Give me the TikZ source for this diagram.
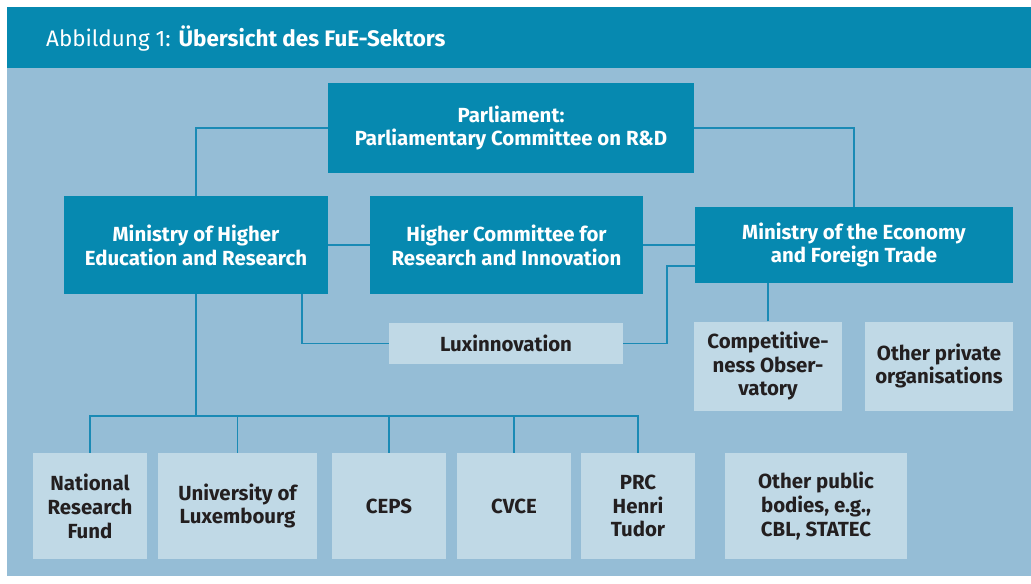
\documentclass[tikz,border=0pt]{standalone}
\usepackage{fontspec}
\setmainfont{Fira Sans}
\usepackage{tikz}
\usetikzlibrary{positioning,calc}

\definecolor{headblue}{HTML}{0689B0}
\definecolor{panelblue}{HTML}{95BDD6}
\definecolor{paleblue}{HTML}{C0D9E6}
\definecolor{linkblue}{HTML}{1A8AB5}
\definecolor{inkdark}{HTML}{231F20}

\begin{document}
\begin{tikzpicture}[
    x=1bp, y=-1bp,
    dark/.style={
        fill=headblue,
        text=white,
        align=center,
        inner sep=0pt,
        font=\fontsize{20.5}{24}\selectfont\bfseries
    },
    pale/.style={
        fill=paleblue,
        text=inkdark,
        align=center,
        inner sep=0pt,
        font=\fontsize{20.5}{24}\selectfont\bfseries
    },
    link/.style={line width=1.6bp, linkblue}
]

% ============================================================
% Panel and title bar
% ============================================================

\useasboundingbox (0,0) rectangle (1031,584);
\fill[panelblue] (7,7) rectangle (1031,576);
\fill[headblue] (7,7) rectangle (1031,68);

\node[
    anchor=west,
    text=white,
    inner sep=0pt,
    font=\fontsize{22.5}{24}\selectfont
] (title) at (46,39)
    {Abbildung 1: \textbf{Übersicht des FuE-Sektors}};

% ============================================================
% Upper level
% ============================================================

\node[dark, minimum width=366bp, minimum height=90bp] (parl) at (511,128)
    {Parliament:\\Parliamentary Committee on R\&D};

\node[dark, minimum width=264bp, minimum height=98bp] (mher) at (196,245)
    {Ministry of Higher\\Education and Research};

\node[dark, minimum width=273bp, minimum height=98bp] (hcri) at (506.5,245)
    {Higher Committee for\\Research and Innovation};

\node[dark, minimum width=318bp, minimum height=76bp] (mecon) at (854,245)
    {Ministry of the Economy\\and Foreign Trade};

% ============================================================
% Middle level
% ============================================================

\node[pale, minimum width=234bp, minimum height=41bp] (luxi) at (506,343.5)
    {Luxinnovation};

\node[pale, minimum width=148bp, minimum height=89bp] (compobs) at (768,366)
    {Competitive-\\ness Obser-\\vatory};

\node[pale, minimum width=148bp, minimum height=89bp] (privorg) at (939,366)
    {Other private\\organisations};

% ============================================================
% Lower level
% ============================================================

\node[pale, minimum width=114bp, minimum height=106bp] (nrf) at (90,506)
    {National\\Research\\Fund};

\node[pale, minimum width=159bp, minimum height=106bp] (uni) at (237.5,506)
    {University of\\Luxembourg};

\node[pale, minimum width=114bp, minimum height=106bp] (ceps) at (389,506)
    {CEPS};

\node[pale, minimum width=114bp, minimum height=106bp] (cvce) at (514,506)
    {CVCE};

\node[pale, minimum width=114bp, minimum height=106bp] (prc) at (638,506)
    {PRC\\Henri\\Tudor};

\node[pale, minimum width=182bp, minimum height=106bp] (pubbod) at (816,506)
    {Other public\\bodies, e.g.,\\CBL, STATEC};

% ============================================================
% Connectors
% ============================================================

\draw[link] (parl.west) -| (mher.north);
\draw[link] (parl.east) -| (mecon.north);

\draw[link] (mher.east) -- (hcri.west);
\draw[link] (hcri.east) -- (mecon.west);

\draw[link] (luxi.west) -| ([xshift=-26bp]mher.south east);
\draw[link] (luxi.east) -- ++(44,0) |- ([yshift=-21bp]mecon.west);

\draw[link] (compobs.north) -- (compobs.north |- mecon.south);

% Branch to the research bodies
\coordinate (bus) at (196,416);

\draw[link] (mher.south) -- (bus);

\foreach \n in {nrf,uni,ceps,cvce,prc}
    \draw[link] (bus) -| (\n.north);

\end{tikzpicture}
\end{document}
